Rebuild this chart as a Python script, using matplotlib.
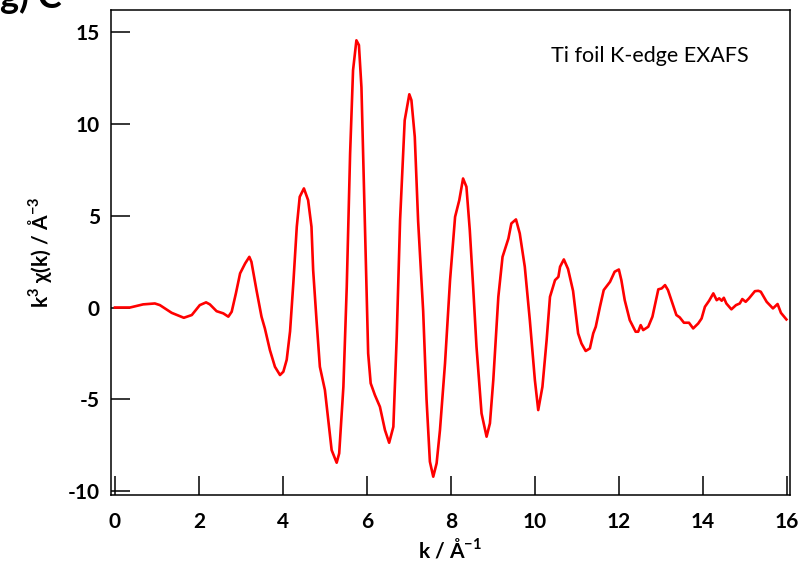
import numpy as np
import matplotlib
matplotlib.use("Agg")
import matplotlib.pyplot as plt

# Ti foil k^3-weighted EXAFS
k = [0.0, 0.36, 0.67, 0.95, 1.07, 1.35, 1.64, 1.83, 2.02, 2.17, 2.26, 2.42,
     2.58, 2.70, 2.78, 2.88, 2.98, 3.10, 3.20, 3.25, 3.37, 3.49, 3.57, 3.69,
     3.81, 3.93, 4.01, 4.09, 4.17, 4.25, 4.33, 4.40, 4.50, 4.60, 4.68, 4.72,
     4.80, 4.88, 5.00, 5.08, 5.16, 5.28, 5.34, 5.44, 5.52, 5.60, 5.67, 5.75,
     5.81, 5.87, 5.95, 6.03, 6.09, 6.19, 6.31, 6.43, 6.53, 6.63, 6.71, 6.79,
     6.90, 7.01, 7.06, 7.14, 7.22, 7.34, 7.42, 7.50, 7.58, 7.66, 7.74, 7.86,
     7.98, 8.10, 8.20, 8.29, 8.37, 8.45, 8.53, 8.61, 8.73, 8.85, 8.93, 9.01,
     9.13, 9.23, 9.37, 9.44, 9.55, 9.64, 9.76, 9.88, 10.00, 10.08, 10.18,
     10.28, 10.36, 10.48, 10.56, 10.60, 10.69, 10.79, 10.91, 11.03, 11.11,
     11.21, 11.31, 11.39, 11.45, 11.55, 11.64, 11.79, 11.90, 12.00, 12.06,
     12.14, 12.26, 12.40, 12.46, 12.52, 12.58, 12.70, 12.80, 12.94, 13.02,
     13.10, 13.17, 13.25, 13.37, 13.45, 13.55, 13.67, 13.77, 13.89, 13.97,
     14.05, 14.15, 14.25, 14.33, 14.39, 14.45, 14.50, 14.56, 14.68, 14.79,
     14.88, 14.94, 15.02, 15.10, 15.24, 15.32, 15.38, 15.52, 15.67, 15.78,
     15.86, 15.99]
chi = [0.0, 0.0, 0.17, 0.22, 0.13, -0.29, -0.56, -0.41, 0.13, 0.28, 0.17, -0.2,
       -0.32, -0.5, -0.23, 0.77, 1.86, 2.4, 2.76, 2.49, 0.95, -0.5, -1.14, -2.32,
       -3.23, -3.68, -3.5, -2.85, -1.3, 1.4, 4.4, 6.03, 6.49, 5.85, 4.4, 2.04,
       -0.69, -3.23, -4.5, -6.13, -7.77, -8.46, -7.95, -4.32, 1.13, 8.39, 12.93, 14.56,
       14.3, 12.0, 4.76, -2.5, -4.13, -4.77, -5.41, -6.68, -7.37, -6.5, -1.6, 4.76,
       10.2, 11.62, 11.3, 9.3, 4.7, -0.2, -5.0, -8.4, -9.22, -8.49, -6.68, -3.05,
       1.49, 4.94, 5.85, 7.03, 6.58, 4.22, 1.13, -2.14, -5.77, -7.04, -6.31, -3.95,
       0.58, 2.76, 3.76, 4.58, 4.8, 4.04, 2.22, -0.69, -3.95, -5.59, -4.32,
       -1.78, 0.58, 1.49, 1.67, 2.22, 2.62, 2.1, 0.9, -1.41, -1.96,
       -2.37, -2.23, -1.41, -1.05, 0.04, 0.95, 1.4, 1.95, 2.07, 1.49,
       0.4, -0.69, -1.32, -1.32, -0.96, -1.23, -1.05, -0.5, 0.99, 1.04,
       1.22, 0.95, 0.4, -0.41, -0.54, -0.83, -0.83, -1.14, -0.87, -0.6,
       0.04, 0.37, 0.77, 0.4, 0.5, 0.37, 0.53, 0.22, -0.1, 0.13,
       0.22, 0.46, 0.31, 0.5, 0.89, 0.91, 0.86, 0.31, -0.05, 0.19,
       -0.29, -0.65]

xticks = [0, 2, 4, 6, 8, 10, 12, 14, 16]
yticks = [-10, -5, 0, 5, 10, 15]

plt.rcParams["font.family"] = ["Lato", "DejaVu Sans"]
plt.rcParams["mathtext.fontset"] = "custom"
plt.rcParams["mathtext.rm"] = "Lato:bold"
plt.rcParams["mathtext.bf"] = "Lato:bold"
plt.rcParams["axes.unicode_minus"] = False

fig = plt.figure(figsize=(8.1, 5.69), dpi=100)
ax = fig.add_axes([0.137, 0.130, 0.838, 0.852])

ax.plot(k, chi, color="red", linewidth=1.9)

ax.set_xlim(-0.095, 16.07)
ax.set_ylim(-10.22, 16.2)
ax.set_xticks(xticks)
ax.set_yticks(yticks)
ax.tick_params(direction="in", length=13.5, width=1.1, labelsize=15)
ax.tick_params(axis="x", pad=12)
ax.tick_params(axis="y", pad=8)
for lab in ax.get_xticklabels() + ax.get_yticklabels():
    lab.set_fontweight("bold")
for sp in ax.spines.values():
    sp.set_linewidth(1.1)

ax.set_xlabel(r"k / Å$^{\mathbf{-1}}$", fontsize=15, fontweight="bold", labelpad=4)
ax.set_ylabel(r"k$^{\mathbf{3}}$ χ(k) / Å$^{\mathbf{-3}}$", fontsize=15,
              fontweight="bold", labelpad=10)

ax.text(0.94, 0.905, "Ti foil K-edge EXAFS", transform=ax.transAxes,
        fontsize=15.5, ha="right", va="center")

# panel label cut off at the top of the original figure
fig.text(0.0, 1.005, "g) C", fontsize=26, fontweight="bold", ha="left", va="center")

fig.savefig("out.png", dpi=100)
